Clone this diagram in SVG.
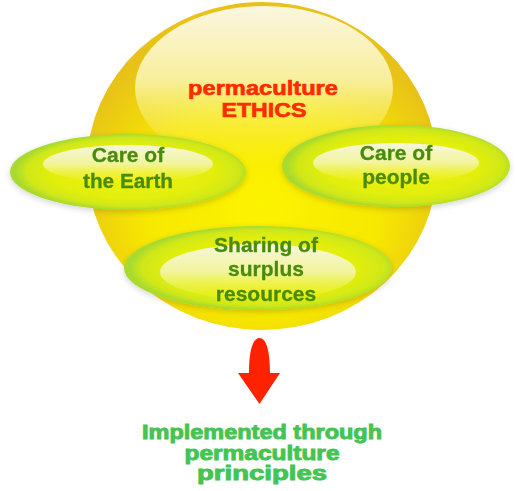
<svg xmlns="http://www.w3.org/2000/svg" width="520" height="491" viewBox="0 0 520 491">
<defs>
<radialGradient id="sun" cx="0.5" cy="0.62" r="0.56">
<stop offset="0" stop-color="#fcf300"/>
<stop offset="0.6" stop-color="#f7e800"/>
<stop offset="1" stop-color="#e8c218"/>
</radialGradient>
<linearGradient id="sunHi" x1="0" y1="0" x2="0" y2="1">
<stop offset="0" stop-color="#fbf6e0"/>
<stop offset="0.45" stop-color="#f8ef9c"/>
<stop offset="1" stop-color="#f7ec30" stop-opacity="0"/>
</linearGradient>
<radialGradient id="leaf" cx="0.52" cy="0.5" r="0.5">
<stop offset="0" stop-color="#f2f200"/>
<stop offset="0.7" stop-color="#e2ee0c"/>
<stop offset="0.9" stop-color="#d0e818"/>
<stop offset="1" stop-color="#a8da30"/>
</radialGradient>
<linearGradient id="leafHi" x1="0" y1="0" x2="0" y2="1">
<stop offset="0" stop-color="#f5f7dc"/>
<stop offset="0.5" stop-color="#f2f49c"/>
<stop offset="1" stop-color="#eef21c" stop-opacity="0.3"/>
</linearGradient>
<filter id="glow" x="-10%" y="-20%" width="120%" height="140%">
<feGaussianBlur in="SourceAlpha" stdDeviation="3"/>
<feOffset dy="2"/>
<feComponentTransfer><feFuncA type="linear" slope="0.18"/></feComponentTransfer>
<feMerge><feMergeNode/><feMergeNode in="SourceGraphic"/></feMerge>
</filter>
</defs>
<style>
.lbl{font-family:"Liberation Sans",Arial,sans-serif;font-weight:bold;text-anchor:middle}
.green{fill:#4a8c0e;font-size:21px;stroke:#4a8c0e;stroke-width:0.3}
.red{fill:#ff2a00;font-size:20px;stroke:#ff2a00;stroke-width:0.6}
.bottom{fill:#44c452;font-size:20px;stroke:#44c452;stroke-width:0.9}
</style>
<g id="ethics">
<ellipse cx="262" cy="166" rx="175" ry="164" fill="url(#sun)"/>
<ellipse cx="264" cy="88" rx="129" ry="82" fill="url(#sunHi)"/>
<text class="lbl red" x="263" y="95" textLength="150" lengthAdjust="spacingAndGlyphs">permaculture</text>
<text class="lbl red" x="264" y="117" textLength="85" lengthAdjust="spacingAndGlyphs">ETHICS</text>
</g>
<g id="earth" filter="url(#glow)">
<ellipse cx="128" cy="172" rx="118" ry="38" fill="url(#leaf)"/>
<ellipse cx="128" cy="164" rx="85" ry="19" fill="url(#leafHi)"/>
<text class="lbl green" x="128" y="162">Care of</text>
<text class="lbl green" x="128" y="188" textLength="90" lengthAdjust="spacingAndGlyphs">the Earth</text>
</g>
<g id="people" filter="url(#glow)">
<ellipse cx="396" cy="166" rx="114" ry="41" fill="url(#leaf)"/>
<ellipse cx="396" cy="163" rx="83" ry="20" fill="url(#leafHi)"/>
<text class="lbl green" x="396" y="160">Care of</text>
<text class="lbl green" x="396" y="184">people</text>
</g>
<g id="sharing" filter="url(#glow)">
<ellipse cx="258" cy="268" rx="134" ry="42" fill="url(#leaf)"/>
<ellipse cx="258" cy="272" rx="98" ry="28" fill="url(#leafHi)"/>
<text class="lbl green" x="266" y="252">Sharing of</text>
<text class="lbl green" x="266" y="276">surplus</text>
<text class="lbl green" x="266" y="301">resources</text>
</g>
<g id="connectors">
<path d="M249 373 C249 350 253 338 259.5 338 C266 338 270 350 270 373 L280 373 L259.5 404 L238 373 Z" fill="#ff2200"/>
</g>
<g id="principles">
<text class="lbl bottom" x="262" y="439" textLength="240" lengthAdjust="spacingAndGlyphs">Implemented through</text>
<text class="lbl bottom" x="262" y="460" textLength="155" lengthAdjust="spacingAndGlyphs">permaculture</text>
<text class="lbl bottom" x="262" y="480" textLength="130" lengthAdjust="spacingAndGlyphs">principles</text>
</g>
</svg>
